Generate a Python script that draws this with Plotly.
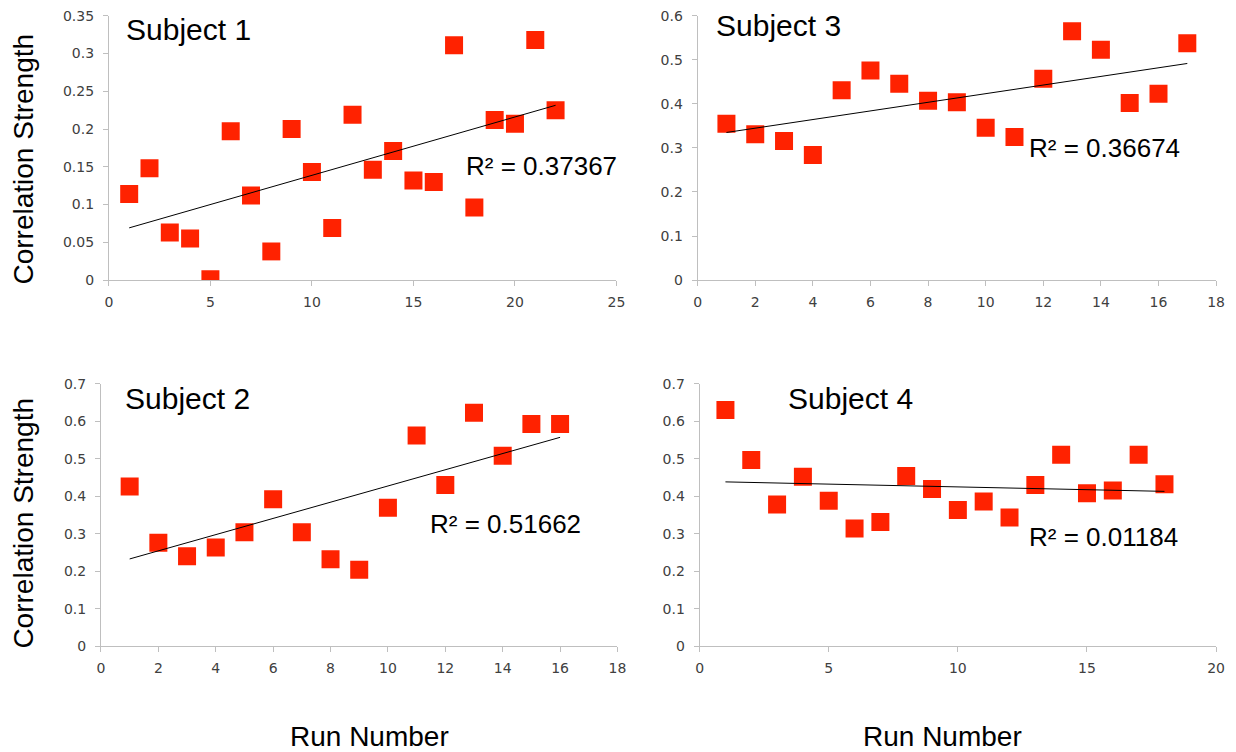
import numpy as np
import plotly.graph_objects as go

W, H = 1236, 752

# ---- data ----
runs1 = list(range(1, 23))
corr1 = [0.114, 0.148, 0.063, 0.055, 0.001, 0.197, 0.112, 0.038, 0.200, 0.143, 0.069,
         0.219, 0.146, 0.171, 0.132, 0.130, 0.311, 0.096, 0.212, 0.207, 0.318, 0.225]
runs2 = list(range(1, 17))
corr2 = [0.426, 0.276, 0.240, 0.263, 0.304, 0.392, 0.304, 0.232, 0.204, 0.369, 0.562,
         0.430, 0.623, 0.508, 0.593, 0.593]
runs3 = list(range(1, 18))
corr3 = [0.355, 0.331, 0.316, 0.284, 0.431, 0.476, 0.446, 0.407, 0.404, 0.346, 0.325,
         0.457, 0.565, 0.523, 0.402, 0.423, 0.538]
runs4 = list(range(1, 19))
corr4 = [0.630, 0.497, 0.378, 0.452, 0.388, 0.314, 0.331, 0.454, 0.419, 0.363, 0.386,
         0.343, 0.430, 0.511, 0.408, 0.415, 0.511, 0.432]

subjects = ["Subject 1", "Subject 2", "Subject 3", "Subject 4"]
r2_labels = ["R² = 0.37367", "R² = 0.51662", "R² = 0.36674", "R² = 0.01184"]
x_max = [25, 18, 18, 20]
x_dtick = [5, 2, 2, 5]
y_max = [0.35, 0.7, 0.6, 0.7]
y_dtick = [0.05, 0.1, 0.1, 0.1]

# ---- layout (pixel boxes: x0, x1, ytop, ybottom) ----
boxes = [(106, 619, 8, 278), (98, 620, 384, 652), (701, 1225, 8, 278), (703, 1225, 384, 652)]
title_pos = [(121, 22), (120, 399), (718, 18), (790, 399)]
r2_pos = [(465, 161), (429, 527), (1034, 143), (1034, 541)]

series = [(runs1, corr1), (runs2, corr2), (runs3, corr3), (runs4, corr4)]

fig = go.Figure()
tick_font = dict(family="DejaVu Sans", size=14, color="#404040")
big_font = dict(family="Liberation Sans, Arial", size=26, color="black")
axis_title_font = dict(family="Liberation Sans, Arial", size=28, color="black")

for i, ((xs, ys), box) in enumerate(zip(series, boxes)):
    n = i + 1
    xa = "x" if n == 1 else f"x{n}"
    ya = "y" if n == 1 else f"y{n}"
    fig.add_trace(go.Scatter(x=xs, y=ys, mode="markers", xaxis=xa, yaxis=ya,
                             marker=dict(symbol="square", size=18, color="#ff2200",
                                         line=dict(width=0)),
                             showlegend=False))
    k, b = np.polyfit(xs, ys, 1)
    xl = [xs[0], xs[-1]]
    fig.add_trace(go.Scatter(x=xl, y=[k * v + b for v in xl], mode="lines",
                             xaxis=xa, yaxis=ya, line=dict(color="black", width=1),
                             showlegend=False))
    x0, x1, yt, yb = box
    axcommon = dict(showgrid=False, zeroline=False, showline=True, linecolor="#bfbfbf",
                    linewidth=1, ticks="outside", ticklen=5, tickcolor="#bfbfbf",
                    tickfont=tick_font, fixedrange=True)
    fig.layout[f"xaxis{'' if n == 1 else n}"] = dict(
        domain=[x0 / W, x1 / W], range=[0, x_max[i]], dtick=x_dtick[i], tick0=0,
        anchor=ya, ticklabelstandoff=4, **axcommon)
    fig.layout[f"yaxis{'' if n == 1 else n}"] = dict(
        domain=[1 - yb / H, 1 - yt / H], range=[0, y_max[i]], dtick=y_dtick[i], tick0=0,
        anchor=xa, tickformat="~g", ticklabelstandoff=6, **axcommon)

annotations = []
for i in range(4):
    tx, ty = title_pos[i]
    annotations.append(dict(x=tx / W, y=1 - ty / H, xref="paper", yref="paper",
                            text=subjects[i], showarrow=False, xanchor="left",
                            yanchor="middle", font=dict(family="Liberation Sans, Arial",
                                                        size=30, color="black")))
    rx, ry = r2_pos[i]
    annotations.append(dict(x=rx / W, y=1 - ry / H, xref="paper", yref="paper",
                            text=r2_labels[i], showarrow=False, xanchor="left",
                            yanchor="middle", font=big_font))

for cy in (154, 526):
    annotations.append(dict(x=20 / W, y=1 - cy / H, xref="paper", yref="paper",
                            text="Correlation Strength", showarrow=False, textangle=-90,
                            xanchor="center", yanchor="middle", font=axis_title_font))
for cx in (369, 948):
    annotations.append(dict(x=cx / W, y=1 - 744 / H, xref="paper", yref="paper",
                            text="Run Number", showarrow=False,
                            xanchor="center", yanchor="middle", font=axis_title_font))

fig.update_layout(width=W, height=H, margin=dict(l=0, r=0, t=0, b=0),
                  paper_bgcolor="white", plot_bgcolor="white",
                  annotations=annotations)

fig.write_html("out.html", config={"displayModeBar": False},
               post_script="document.body.style.margin='0';"
                           "document.body.style.overflow='hidden';")
